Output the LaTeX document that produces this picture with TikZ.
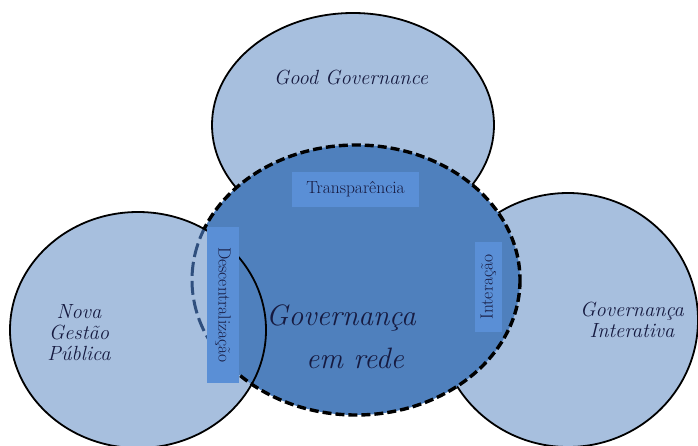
\documentclass[tikz,border=0pt]{standalone}
\usepackage{fontspec}
\definecolor{lightfill}{HTML}{A7BFDE}
\definecolor{midfill}{HTML}{4F80BD}
\definecolor{boxfill}{HTML}{5A8FD6}
\definecolor{txt}{HTML}{161A40}
\definecolor{veilline}{HTML}{2F4F7E}
\tikzset{
  outer/.style={fill=lightfill, draw=black, line width=1.8pt},
  outline/.style={draw=black, line width=1.8pt},
  inner/.style={fill=midfill},
  dashring/.style={draw=black, line width=3.4pt, dash pattern=on 9pt off 4pt},
  tagbox/.style={fill=boxfill, inner sep=0pt, text=txt, font=\fontsize{17.5}{19}\selectfont},
  label/.style={text=txt, font=\itshape\fontsize{20.5}{21}\selectfont, align=center},
  biglabel/.style={text=txt, font=\itshape\fontsize{29.5}{32}\selectfont},
}
\begin{document}
\begin{tikzpicture}[x=1pt,y=-1pt]
\useasboundingbox (0,0) rectangle (698,445);
% outer sets
\path[outer] (353,125) ellipse [x radius=141, y radius=112];
\path[outer] (568,320) ellipse [x radius=130, y radius=127];
\path[fill=lightfill] (138,330) ellipse [x radius=128, y radius=118];
% central set
\path[inner] (356,280) ellipse [x radius=164, y radius=135];
\path[dashring] (356,280) ellipse [x radius=164, y radius=135];
% veil of the left set over the central one
\begin{scope}
  \clip (138,330) ellipse [x radius=128, y radius=118];
  \clip (0,0) rectangle (208,445);
  \path[fill=lightfill] (0,0) rectangle (208,445);
  \path[draw=veilline, line width=3pt, dash pattern=on 14pt off 5pt] (356,280) ellipse [x radius=164, y radius=135];
\end{scope}
\path[outline] (138,330) ellipse [x radius=128, y radius=118];
% boxes
\node[tagbox, minimum width=127pt, minimum height=35pt] (transp) at (355.5,189.5) {Transparência};
\node[tagbox, minimum width=156pt, minimum height=32pt, rotate=-90] (descen) at (223,305) {Descentralização};
\node[tagbox, minimum width=90pt, minimum height=27pt, rotate=90] (inter) at (488.5,287) {Interação};
% labels
\node[label] (gg) at (351,77) {Good Governance};
\node[label] (ngp) at (79,333) {Nova\\Gestão\\Pública};
\node[label] (gi) at (632,320) {Governança\\Interativa};
\node[biglabel] (gr1) at (341,318) {Governança};
\node[biglabel] (gr2) at (355,358) {em rede};
\end{tikzpicture}
\end{document}
